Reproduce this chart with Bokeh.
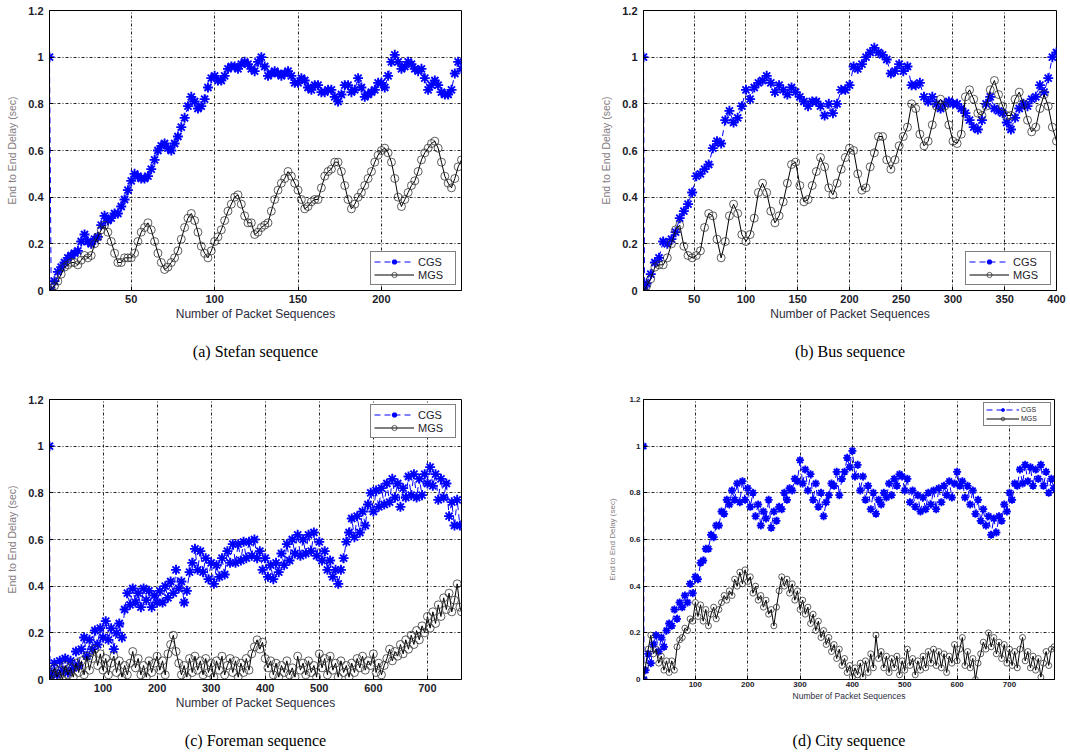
from bokeh.plotting import figure
from bokeh.layouts import column, row
from bokeh.models import (Range1d, FixedTicker, CustomJSTickFormatter, Legend,
                          LegendItem, Title)
from bokeh.embed import file_html
from bokeh.resources import INLINE

# ---------------- data ----------------
y_ticks = [0, 0.2, 0.4, 0.6, 0.8, 1, 1.2]

# (a) Stefan sequence: packet index 1..248
stefan_xticks = [50, 100, 150, 200]
stefan_cgs_x = [1] + list(range(2, 249, 2))
stefan_cgs_y = [1.0,
                0.00, 0.04, 0.08, 0.10, 0.12, 0.14, 0.15, 0.16, 0.17, 0.21,
                0.24, 0.21, 0.20, 0.22, 0.23, 0.28, 0.32, 0.30, 0.31, 0.33,
                0.33, 0.36, 0.39, 0.43, 0.47, 0.50, 0.49, 0.48, 0.48, 0.49,
                0.52, 0.56, 0.60, 0.62, 0.63, 0.61, 0.60, 0.63, 0.66, 0.70,
                0.74, 0.79, 0.83, 0.81, 0.78, 0.79, 0.82, 0.87, 0.91, 0.92,
                0.90, 0.90, 0.92, 0.95, 0.96, 0.96, 0.95, 0.97, 0.98, 0.97,
                0.95, 0.94, 0.98, 1.00, 0.96, 0.92, 0.93, 0.94, 0.93, 0.92,
                0.93, 0.94, 0.92, 0.89, 0.89, 0.91, 0.90, 0.87, 0.86, 0.88,
                0.88, 0.85, 0.85, 0.86, 0.86, 0.83, 0.81, 0.84, 0.88, 0.88,
                0.85, 0.86, 0.91, 0.87, 0.83, 0.84, 0.85, 0.86, 0.89, 0.89,
                0.87, 0.92, 0.98, 1.01, 0.98, 0.95, 0.96, 0.98, 0.97, 0.95,
                0.94, 0.95, 0.91, 0.86, 0.88, 0.90, 0.88, 0.85, 0.84, 0.84,
                0.86, 0.93, 0.98, 0.95]
stefan_mgs_x = [1] + list(range(2, 249, 2))
stefan_mgs_y = [0.00,
                0.01, 0.02, 0.04, 0.07, 0.10, 0.11, 0.12, 0.12, 0.11, 0.13,
                0.15, 0.14, 0.15, 0.20, 0.23, 0.26, 0.28, 0.25, 0.21, 0.16,
                0.12, 0.12, 0.14, 0.14, 0.14, 0.16, 0.21, 0.25, 0.27, 0.29,
                0.26, 0.21, 0.16, 0.12, 0.09, 0.10, 0.12, 0.14, 0.17, 0.22,
                0.27, 0.31, 0.33, 0.30, 0.25, 0.19, 0.16, 0.14, 0.17, 0.21,
                0.23, 0.26, 0.30, 0.34, 0.37, 0.40, 0.41, 0.37, 0.32, 0.29,
                0.29, 0.24, 0.25, 0.27, 0.28, 0.29, 0.34, 0.39, 0.43, 0.46,
                0.48, 0.51, 0.49, 0.46, 0.43, 0.39, 0.35, 0.36, 0.38, 0.39,
                0.39, 0.44, 0.49, 0.51, 0.52, 0.55, 0.55, 0.51, 0.45, 0.39,
                0.35, 0.37, 0.40, 0.42, 0.45, 0.48, 0.51, 0.55, 0.58, 0.60,
                0.61, 0.59, 0.55, 0.48, 0.40, 0.36, 0.39, 0.42, 0.45, 0.47,
                0.51, 0.56, 0.59, 0.61, 0.63, 0.64, 0.61, 0.55, 0.49, 0.46,
                0.44, 0.48, 0.53, 0.56]

# (b) Bus sequence: packet index 1..400
bus_xticks = [50, 100, 150, 200, 250, 300, 350, 400]
bus_cgs_x = [1, 2] + list(range(4, 401, 4))
bus_cgs_y = [1.0, 0.0,
             0.03, 0.07, 0.12, 0.14, 0.21, 0.20, 0.22, 0.25, 0.31, 0.34,
             0.37, 0.42, 0.49, 0.50, 0.52, 0.54, 0.61, 0.64, 0.63, 0.73,
             0.77, 0.72, 0.74, 0.79, 0.86, 0.82, 0.87, 0.89, 0.90, 0.92,
             0.89, 0.85, 0.88, 0.86, 0.84, 0.87, 0.85, 0.83, 0.81, 0.79,
             0.81, 0.81, 0.79, 0.75, 0.80, 0.76, 0.80, 0.86, 0.86, 0.88,
             0.96, 0.95, 0.97, 1.00, 1.02, 1.04, 1.02, 1.01, 0.99, 0.93,
             0.94, 0.97, 0.94, 0.96, 0.88, 0.88, 0.89, 0.83, 0.81, 0.83,
             0.80, 0.78, 0.80, 0.81, 0.80, 0.80, 0.78, 0.76, 0.73, 0.70,
             0.69, 0.73, 0.80, 0.83, 0.78, 0.77, 0.76, 0.72, 0.69, 0.74,
             0.78, 0.80, 0.79, 0.82, 0.83, 0.88, 0.85, 0.91, 1.00, 1.02]
bus_mgs_x = [1] + list(range(4, 401, 4))
bus_mgs_y = [0.0,
             0.02, 0.05, 0.10, 0.11, 0.11, 0.14, 0.20, 0.26, 0.28, 0.19,
             0.15, 0.14, 0.15, 0.17, 0.27, 0.33, 0.32, 0.22, 0.14, 0.21,
             0.32, 0.37, 0.33, 0.24, 0.21, 0.24, 0.31, 0.42, 0.46, 0.42,
             0.34, 0.29, 0.32, 0.38, 0.46, 0.54, 0.55, 0.45, 0.38, 0.39,
             0.45, 0.51, 0.57, 0.53, 0.44, 0.41, 0.46, 0.52, 0.57, 0.61,
             0.60, 0.50, 0.43, 0.44, 0.53, 0.59, 0.66, 0.66, 0.56, 0.52,
             0.56, 0.62, 0.66, 0.70, 0.80, 0.78, 0.67, 0.62, 0.64, 0.71,
             0.79, 0.82, 0.79, 0.71, 0.64, 0.63, 0.67, 0.83, 0.86, 0.82,
             0.76, 0.75, 0.79, 0.86, 0.90, 0.84, 0.79, 0.75, 0.75, 0.82,
             0.85, 0.80, 0.73, 0.68, 0.70, 0.78, 0.84, 0.79, 0.70, 0.64]

# (c) Foreman sequence: packet index 1..763
foreman_xticks = [100, 200, 300, 400, 500, 600, 700]
foreman_cgs_x = [1, 2] + list(range(5, 761, 5))
foreman_cgs_y = [1.0, 0.01,
                 0.03, 0.07, 0.02, 0.08, 0.04, 0.09, 0.03, 0.08, 0.05, 0.12,
                 0.06, 0.13, 0.18, 0.10, 0.17, 0.13, 0.21, 0.15, 0.22, 0.18,
                 0.25, 0.17, 0.22, 0.13, 0.20, 0.24, 0.18, 0.30, 0.37, 0.32,
                 0.39, 0.33, 0.37, 0.31, 0.39, 0.34, 0.38, 0.31, 0.36, 0.33,
                 0.38, 0.33, 0.40, 0.35, 0.42, 0.37, 0.47, 0.39, 0.42, 0.33,
                 0.38, 0.46, 0.50, 0.56, 0.47, 0.55, 0.46, 0.52, 0.43, 0.50,
                 0.41, 0.49, 0.44, 0.52, 0.45, 0.55, 0.50, 0.58, 0.50, 0.58,
                 0.51, 0.59, 0.52, 0.59, 0.53, 0.60, 0.52, 0.55, 0.47, 0.52,
                 0.44, 0.49, 0.43, 0.50, 0.46, 0.54, 0.49, 0.58, 0.51, 0.60,
                 0.54, 0.62, 0.53, 0.60, 0.54, 0.62, 0.55, 0.63, 0.53, 0.59,
                 0.51, 0.55, 0.47, 0.51, 0.44, 0.47, 0.41, 0.47, 0.52, 0.59,
                 0.63, 0.69, 0.61, 0.70, 0.63, 0.72, 0.66, 0.75, 0.80, 0.72,
                 0.81, 0.74, 0.82, 0.75, 0.84, 0.76, 0.86, 0.78, 0.84, 0.74,
                 0.82, 0.78, 0.87, 0.79, 0.88, 0.78, 0.86, 0.79, 0.88, 0.84,
                 0.91, 0.83, 0.88, 0.77, 0.86, 0.78, 0.84, 0.70, 0.76, 0.66,
                 0.77, 0.66]
foreman_mgs_x = [1] + list(range(5, 761, 5)) + [763]
foreman_mgs_y = [0.00,
                 0.02, 0.05, 0.01, 0.04, 0.00, 0.06, 0.02, 0.05, 0.01, 0.07,
                 0.03, 0.08, 0.02, 0.10, 0.04, 0.09, 0.13, 0.06, 0.11, 0.04,
                 0.09, 0.02, 0.07, 0.10, 0.03, 0.08, 0.01, 0.06, 0.02, 0.07,
                 0.12, 0.05, 0.09, 0.02, 0.06, 0.01, 0.08, 0.03, 0.07, 0.10,
                 0.04, 0.08, 0.02, 0.11, 0.15, 0.19, 0.12, 0.07, 0.02, 0.06,
                 0.01, 0.09, 0.03, 0.10, 0.04, 0.08, 0.02, 0.09, 0.03, 0.07,
                 0.01, 0.08, 0.04, 0.10, 0.02, 0.06, 0.09, 0.03, 0.08, 0.01,
                 0.07, 0.03, 0.09, 0.04, 0.11, 0.14, 0.17, 0.13, 0.16, 0.09,
                 0.05, 0.08, 0.02, 0.07, 0.01, 0.06, 0.03, 0.08, 0.02, 0.05,
                 0.01, 0.10, 0.04, 0.07, 0.02, 0.08, 0.03, 0.06, 0.01, 0.11,
                 0.05, 0.09, 0.02, 0.10, 0.04, 0.07, 0.01, 0.08, 0.03, 0.06,
                 0.01, 0.07, 0.03, 0.09, 0.05, 0.10, 0.04, 0.08, 0.06, 0.11,
                 0.03, 0.07, 0.02, 0.06, 0.09, 0.13, 0.08, 0.12, 0.10, 0.15,
                 0.11, 0.17, 0.13, 0.19, 0.15, 0.21, 0.17, 0.23, 0.20, 0.27,
                 0.22, 0.29, 0.24, 0.32, 0.27, 0.35, 0.30, 0.37, 0.29, 0.34,
                 0.41, 0.31,
                 0.29]

# (d) City sequence: packet index 1..786
city_xticks = [100, 200, 300, 400, 500, 600, 700]
city_cgs_x = [1, 2] + list(range(5, 786, 5))
city_cgs_y = [1.0, 0.0,
              0.04, 0.11, 0.07, 0.15, 0.19, 0.12, 0.18, 0.14, 0.21, 0.24,
              0.23, 0.30, 0.26, 0.33, 0.31, 0.36, 0.33, 0.41, 0.37, 0.44,
              0.43, 0.50, 0.51, 0.56, 0.56, 0.62, 0.61, 0.66, 0.66, 0.72,
              0.71, 0.77, 0.75, 0.81, 0.77, 0.84, 0.76, 0.85, 0.77, 0.82,
              0.74, 0.80, 0.70, 0.75, 0.66, 0.72, 0.69, 0.77, 0.65, 0.72,
              0.68, 0.74, 0.73, 0.80, 0.77, 0.82, 0.81, 0.86, 0.85, 0.94,
              0.84, 0.90, 0.81, 0.88, 0.77, 0.84, 0.74, 0.80, 0.70, 0.76,
              0.79, 0.84, 0.83, 0.89, 0.79, 0.86, 0.89, 0.95, 0.91, 0.98,
              0.87, 0.92, 0.81, 0.87, 0.77, 0.83, 0.73, 0.80, 0.71, 0.77,
              0.75, 0.80, 0.78, 0.84, 0.79, 0.86, 0.83, 0.88, 0.87, 0.81,
              0.86, 0.76, 0.81, 0.74, 0.79, 0.72, 0.78, 0.73, 0.80, 0.75,
              0.81, 0.73, 0.82, 0.76, 0.83, 0.79, 0.85, 0.78, 0.84, 0.89,
              0.83, 0.85, 0.78, 0.83, 0.75, 0.81, 0.71, 0.77, 0.68, 0.73,
              0.66, 0.70, 0.62, 0.69, 0.63, 0.70, 0.68, 0.75, 0.72, 0.80,
              0.77, 0.84, 0.83, 0.90, 0.84, 0.92, 0.85, 0.91, 0.83, 0.90,
              0.86, 0.92, 0.83, 0.89, 0.80, 0.86, 0.82]
city_mgs_x = [1] + list(range(5, 786, 5))
city_mgs_y = [0.00,
              0.06, 0.13, 0.19, 0.11, 0.13, 0.07, 0.10, 0.04, 0.08, 0.03,
              0.08, 0.04, 0.14, 0.17, 0.18, 0.22, 0.21, 0.26, 0.25, 0.33,
              0.27, 0.32, 0.25, 0.30, 0.23, 0.28, 0.31, 0.26, 0.30, 0.33,
              0.36, 0.34, 0.38, 0.36, 0.43, 0.40, 0.46, 0.41, 0.47, 0.42,
              0.44, 0.37, 0.40, 0.34, 0.36, 0.31, 0.34, 0.28, 0.30, 0.23,
              0.31, 0.38, 0.44, 0.40, 0.43, 0.37, 0.41, 0.34, 0.38, 0.30,
              0.34, 0.28, 0.31, 0.24, 0.28, 0.21, 0.25, 0.18, 0.21, 0.15,
              0.18, 0.12, 0.15, 0.09, 0.13, 0.06, 0.09, 0.03, 0.06, 0.01,
              0.05, 0.02, 0.07, 0.01, 0.08, 0.03, 0.11, 0.05, 0.19, 0.09,
              0.12, 0.05, 0.10, 0.03, 0.09, 0.05, 0.10, 0.02, 0.08, 0.04,
              0.13, 0.06, 0.09, 0.02, 0.08, 0.04, 0.10, 0.05, 0.12, 0.07,
              0.13, 0.06, 0.12, 0.05, 0.11, 0.03, 0.10, 0.07, 0.15, 0.08,
              0.13, 0.18, 0.06, 0.12, 0.05, 0.09, 0.00, 0.07, 0.11, 0.16,
              0.13, 0.20, 0.14, 0.18, 0.11, 0.16, 0.09, 0.15, 0.07, 0.13,
              0.06, 0.12, 0.05, 0.13, 0.18, 0.08, 0.12, 0.05, 0.10, 0.04,
              0.09, 0.01, 0.07, 0.12, 0.06, 0.13, 0.14]

series_labels = ["CGS", "MGS"]
x_label = "Number of Packet Sequences"
y_label = "End to End Delay (sec)"
captions = ["(a) Stefan sequence", "(b) Bus sequence", "(c) Foreman sequence", "(d) City sequence"]

SANS = "Liberation Sans"
SERIF = "Liberation Serif"


def make_panel(caption, xmax, xticks, cgs_x, cgs_y, mgs_x, mgs_y, geo, cap_gap,
               legend_top=False, small=False):
    width, height, bl, br, bt, bb = geo
    p = figure(width=width, height=height, output_backend="svg", toolbar_location=None,
               title=None, x_range=Range1d(1, xmax), y_range=Range1d(0, 1.2),
               min_border_left=bl, min_border_right=br, min_border_top=bt, min_border_bottom=bb)
    p.background_fill_color = "white"
    p.border_fill_color = "white"
    p.outline_line_color = "black"
    p.outline_line_width = 1
    p.outline_line_alpha = 1

    xt = FixedTicker(ticks=xticks)
    yt = FixedTicker(ticks=y_ticks)
    p.xaxis.ticker = xt
    p.yaxis.ticker = yt
    p.xgrid.ticker = xt
    p.ygrid.ticker = yt
    p.yaxis.formatter = CustomJSTickFormatter(code="return String(Number(tick.toFixed(1)));")

    tick_fs = "8px" if small else "11px"
    lab_fs_x = "8.5px" if small else "12px"
    lab_fs_y = "8px" if small else "10.5px"
    for ax in (p.xaxis[0], p.yaxis[0]):
        ax.axis_line_color = "black"
        ax.major_tick_line_color = "black"
        ax.major_tick_in = 4
        ax.major_tick_out = 0
        ax.minor_tick_line_color = None
        ax.major_label_text_font = SANS
        ax.major_label_text_font_size = tick_fs
        ax.major_label_text_color = "#1c1c2a"
        ax.major_label_text_font_style = "bold"
        ax.axis_label_text_font = SANS
        ax.axis_label_text_font_style = "normal"
    p.xaxis.axis_label = x_label
    p.yaxis.axis_label = y_label
    p.xaxis.axis_label_text_font_size = lab_fs_x
    p.yaxis.axis_label_text_font_size = lab_fs_y
    p.xaxis.axis_label_text_color = "#2c2c3c"
    p.yaxis.axis_label_text_color = "#857d82"
    p.xaxis.major_label_standoff = 2 if small else 4
    p.yaxis.major_label_standoff = 3 if small else 6
    p.xaxis.axis_label_standoff = 1
    p.yaxis.axis_label_standoff = 9 if small else 7

    for g in (p.xgrid[0], p.ygrid[0]):
        g.grid_line_color = "black"
        g.grid_line_dash = "3 2 1 2"
        g.grid_line_width = 1
        g.grid_line_alpha = 0.85

    star = 8 if small else 10
    circ = 6 if small else 8
    cgs_line = p.line(cgs_x, cgs_y, line_color="#0000ff", line_dash="6 4", line_width=1)
    cgs_pts = p.scatter(cgs_x, cgs_y, marker="asterisk", size=star, line_color="#0000ff",
                        line_width=1.9)
    mgs_line = p.line(mgs_x, mgs_y, line_color="black", line_width=1)
    mgs_pts = p.scatter(mgs_x, mgs_y, marker="circle", size=circ, line_color="#2a2a2a",
                        fill_color=None, line_width=1, line_alpha=0.75)

    legend = Legend(items=[LegendItem(label=series_labels[0], renderers=[cgs_line, cgs_pts]),
                           LegendItem(label=series_labels[1], renderers=[mgs_line, mgs_pts])])
    legend.border_line_color = "black"
    legend.border_line_width = 1
    legend.background_fill_color = "white"
    legend.background_fill_alpha = 1
    legend.label_text_font = SANS
    legend.label_text_color = "#1c1c2a"
    if small:
        legend.location = "top_right"
        legend.margin = 3
        legend.padding = 2
        legend.spacing = 0
        legend.glyph_width = 33
        legend.glyph_height = 9
        legend.label_height = 9
        legend.label_width = 27
        legend.label_standoff = 2
        legend.label_text_font_size = "7px"
    else:
        legend.location = "top_right" if legend_top else "bottom_right"
        legend.margin = 5
        legend.padding = 3
        legend.spacing = 0
        legend.glyph_width = 40
        legend.glyph_height = 13
        legend.label_height = 13
        legend.label_width = 34
        legend.label_standoff = 4
        legend.label_text_font_size = "11px"
    p.add_layout(legend)

    # empty spacer between the x axis and the sub-figure caption
    spacer = Title(text=" ", text_font=SANS, text_font_size="8px", standoff=cap_gap)
    p.add_layout(spacer, "below")
    cap = Title(text=caption, align="center", offset=-11, text_font=SERIF,
                text_font_size="16px", text_font_style="normal", text_color="black",
                standoff=0)
    p.add_layout(cap, "below")
    return p


pa = make_panel(captions[0], 248, stefan_xticks, stefan_cgs_x, stefan_cgs_y, stefan_mgs_x, stefan_mgs_y,
                (535, 377, 49, 74, 10, 87), 6)
pb = make_panel(captions[1], 400, bus_xticks, bus_cgs_x, bus_cgs_y, bus_mgs_x, bus_mgs_y,
                (535, 377, 108, 14, 10, 87), 6)
pc = make_panel(captions[2], 763, foreman_xticks, foreman_cgs_x, foreman_cgs_y, foreman_mgs_x, foreman_mgs_y,
                (535, 378, 49, 74, 22, 76), 6, legend_top=True)
pd = make_panel(captions[3], 786, city_xticks, city_cgs_x, city_cgs_y, city_mgs_x, city_mgs_y,
                (535, 378, 108, 16, 22, 76), 15, small=True)

layout = column(row(pa, pb, spacing=0), row(pc, pd, spacing=0), spacing=0)

open("out.html", "w").write(file_html(layout, INLINE))
